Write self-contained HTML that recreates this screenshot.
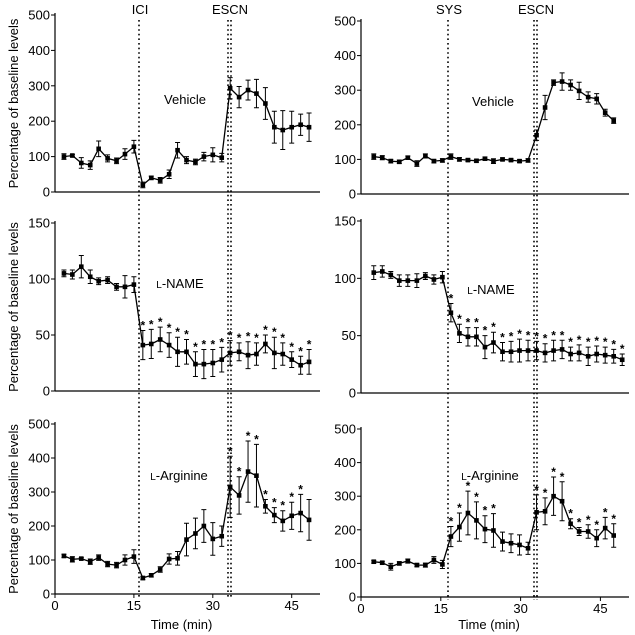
<!DOCTYPE html>
<html><head><meta charset="utf-8"><style>
html,body{margin:0;padding:0;background:#fff}
svg{display:block;font-family:"Liberation Sans",Arial,sans-serif}
</style></head><body>
<svg id="chart" width="635" height="635" viewBox="0 0 635 635" xmlns="http://www.w3.org/2000/svg"></svg>
<script>
// ---- data ----
const leftTimes = [1.7,3.3,5.0,6.7,8.3,10.0,11.7,13.3,15.0,16.7,18.3,20.0,21.7,23.3,25.0,26.7,28.3,30.0,31.7,33.3,35.0,36.7,38.3,40.0,41.7,43.3,45.0,46.7,48.3];
const rightTimes = [2.4,4.0,5.6,7.2,8.8,10.5,12.1,13.7,15.3,16.9,18.5,20.1,21.7,23.3,24.9,26.6,28.2,29.8,31.4,33.0,34.6,36.2,37.8,39.4,41.0,42.7,44.3,45.9,47.5,49.1];

const lVehVals = [100,103,82,76,122,95,88,107,128,20,40,33,50,118,90,85,100,105,97,293,268,288,278,250,183,175,183,190,183];
const lVehErr  = [8,3,15,12,22,10,8,15,18,8,5,8,12,22,10,8,12,20,12,30,30,28,40,45,45,55,45,30,40];
const lVehStars = [];

const lNameVals = [105,104,111,102,98,99,93,93,95,41,42,46,41,35,35,24,24,25,28,34,35,32,33,42,34,33,28,23,26];
const lNameErr  = [3,4,10,6,3,3,3,10,7,13,13,11,11,13,11,11,13,12,11,11,8,12,10,8,14,10,7,8,11];
const lNameStars = [9,10,11,12,13,14,15,16,17,18,19,20,21,22,23,24,25,26,27,28];

const lArgVals = [112,102,104,95,107,88,85,100,110,47,55,72,103,105,160,178,200,162,170,315,290,360,348,258,232,215,230,238,218];
const lArgErr  = [5,8,3,8,8,8,8,15,20,5,5,8,15,20,48,45,48,48,30,90,55,90,92,20,22,30,40,55,60];
const lArgStars = [19,20,21,22,23,24,25,26,27];

const rVehVals = [108,105,95,93,105,88,110,95,97,108,100,98,96,102,95,100,98,95,97,170,250,322,325,315,298,280,275,235,212];
const rVehErr  = [8,6,5,5,5,8,6,5,5,8,5,4,4,5,7,4,4,4,5,15,35,8,25,15,25,15,15,10,8];
const rVehStars = [];

const rNameVals = [105,106,103,98,98,98,102,99,101,70,52,49,49,40,44,36,36,37,37,37,35,37,38,34,35,32,34,33,32,29];
const rNameErr  = [6,5,3,5,5,6,3,4,5,8,8,8,8,10,9,8,9,10,9,8,8,9,8,6,7,8,7,7,6,5];
const rNameStars = [9,10,11,12,13,14,15,16,17,18,19,20,21,22,23,24,25,26,27,28,29];

const rArgVals = [105,102,90,100,107,95,95,110,97,180,208,250,228,202,198,165,160,155,145,252,255,300,285,218,195,195,175,205,183];
const rArgErr  = [4,4,10,5,6,5,6,10,12,30,42,65,55,40,50,28,28,30,18,52,40,57,58,15,12,20,25,32,35];
const rArgStars = [9,10,11,12,13,14,19,20,21,22,23,24,25,26,27,28];

const NS = "http://www.w3.org/2000/svg";
const svg = document.getElementById('chart');
function mk(tag, attrs, parent){
  const e = document.createElementNS(NS, tag);
  for (const k in attrs) e.setAttribute(k, attrs[k]);
  (parent||svg).appendChild(e);
  return e;
}

function panel(p){
  const g = mk('g', {});
  
  
  const xs = t => p.x0 + (t - 0) * (p.x1 - p.x0) / 50;
  const ys = v => p.y0 - v * (p.y0 - p.yTop) / p.yMax;
  // axes
  const ya = mk('line', {x1:p.x0, y1:p.yTop-2, x2:p.x0, y2:p.y0, stroke:'#000','stroke-width':1.2}, g);
  
  
  const xa = mk('line', {x1:p.x0, y1:p.y0, x2:p.x1+2, y2:p.y0, stroke:'#000','stroke-width':1.2}, g);
  
  
  p.yTicks.forEach(v => {
    mk('line', {x1:p.x0-4, y1:ys(v), x2:p.x0, y2:ys(v), stroke:'#000','stroke-width':1}, g);
    const t = mk('text', {x:p.x0-5, y:ys(v)+4.5, 'text-anchor':'end','font-size':13}, g);
    t.textContent = v;
    
    
  });
  if (p.xTicks) {
    [0,15,30,45].forEach(v => {
      mk('line', {x1:xs(v), y1:p.y0, x2:xs(v), y2:p.y0+4, stroke:'#000','stroke-width':1}, g);
      const t = mk('text', {x:xs(v), y:p.y0+16, 'text-anchor':'middle','font-size':13}, g);
      t.textContent = v;
      
      
    });
    const xl = mk('text', {x:(p.x0+p.x1)/2-5, y:629, 'text-anchor':'middle','font-size':13}, g);
    xl.textContent = 'Time (min)';
    
    
  }
  if (p.yLabel) {
    const cy = (p.yTop + p.y0)/2;
    const yl = mk('text', {x:18, y:cy, 'text-anchor':'middle','font-size':13, transform:`rotate(-90 18 ${cy})`}, g);
    yl.textContent = 'Percentage of baseline levels';
    
    
  }
  // line
  const pts = p.vals.map((v,i) => xs(p.times[i]).toFixed(1)+','+ys(v).toFixed(1)).join(' ');
  const ln = mk('polyline', {points:pts, fill:'none', stroke:'#000','stroke-width':1.3}, g);
  
  
  p.vals.forEach((v,i) => {
    const x = xs(p.times[i]), y = ys(v), e = p.err[i];
    const yt = ys(v+e), yb = ys(Math.max(0,v-e));
    const eb = mk('path', {d:`M${x},${yt}V${yb}M${x-2.5},${yt}H${x+2.5}M${x-2.5},${yb}H${x+2.5}`, stroke:'#000','stroke-width':1, fill:'none'}, g);
    
    
    const m = mk('rect', {x:x-2.3, y:y-2.3, width:4.6, height:4.6, fill:'#000'}, g);
    
    
    if (p.stars.indexOf(i) >= 0) {
      const s = mk('text', {x:x, y:yt-1, 'text-anchor':'middle','font-size':12,'font-weight':'bold'}, g);
      s.textContent = '*';
      
      
    }
  });
  // condition label
  const cl = mk('text', {x:p.lx, y:p.ly, 'text-anchor':'middle','font-size':13}, g);
  
  
  if (p.label.startsWith('L-')) {
    const a = mk('tspan', {'font-size':10}, cl); a.textContent = 'L';
    const b = mk('tspan', {}, cl); b.textContent = p.label.slice(1);
  } else cl.textContent = p.label;
}

function vline(x, y1, y2, name){
  const l = mk('line', {x1:x, y1:y1, x2:x, y2:y2, stroke:'#000','stroke-width':1.6,'stroke-dasharray':'1.6 3'});
  
  
}

const L = {x0:55, x1:318}, R = {x0:361, x1:627};
panel({name:'left-vehicle-panel', ...L, yTop:15, y0:192, yMax:500, yTicks:[0,100,200,300,400,500], times:leftTimes, vals:lVehVals, err:lVehErr, stars:lVehStars, label:'Vehicle', lx:185, ly:104, yLabel:true});
panel({name:'left-lname-panel', ...L, yTop:223, y0:391, yMax:150, yTicks:[0,50,100,150], times:leftTimes, vals:lNameVals, err:lNameErr, stars:lNameStars, label:'L-NAME', lx:180, ly:288, yLabel:true});
panel({name:'left-larginine-panel', ...L, yTop:424, y0:594, yMax:500, yTicks:[0,100,200,300,400,500], times:leftTimes, vals:lArgVals, err:lArgErr, stars:lArgStars, label:'L-Arginine', lx:179, ly:480, yLabel:true, xTicks:true});
panel({name:'right-vehicle-panel', ...R, yTop:21, y0:194, yMax:500, yTicks:[0,100,200,300,400,500], times:rightTimes, vals:rVehVals, err:rVehErr, stars:rVehStars, label:'Vehicle', lx:493, ly:106});
panel({name:'right-lname-panel', ...R, yTop:221, y0:393, yMax:150, yTicks:[0,50,100,150], times:rightTimes, vals:rNameVals, err:rNameErr, stars:rNameStars, label:'L-NAME', lx:491, ly:294});
panel({name:'right-larginine-panel', ...R, yTop:429, y0:597, yMax:500, yTicks:[0,100,200,300,400,500], times:rightTimes, vals:rArgVals, err:rArgErr, stars:rArgStars, label:'L-Arginine', lx:490, ly:480, xTicks:true});

vline(139, 20, 598, 'ici-marker-line');
vline(228, 20, 598, 'escn-marker-line-1');
vline(231, 20, 598, 'escn-marker-line-2');
vline(448, 20, 600, 'sys-marker-line');
vline(534, 20, 600, 'escn-marker-line-3');
vline(537, 20, 600, 'escn-marker-line-4');

[['ICI',140,'ici-label'],['ESCN',230,'escn-label-left'],['SYS',449,'sys-label'],['ESCN',536,'escn-label-right']].forEach(d => {
  const t = mk('text', {x:d[1], y:14, 'text-anchor':'middle','font-size':13});
  t.textContent = d[0];
  
  
});
</script>
</body></html>
